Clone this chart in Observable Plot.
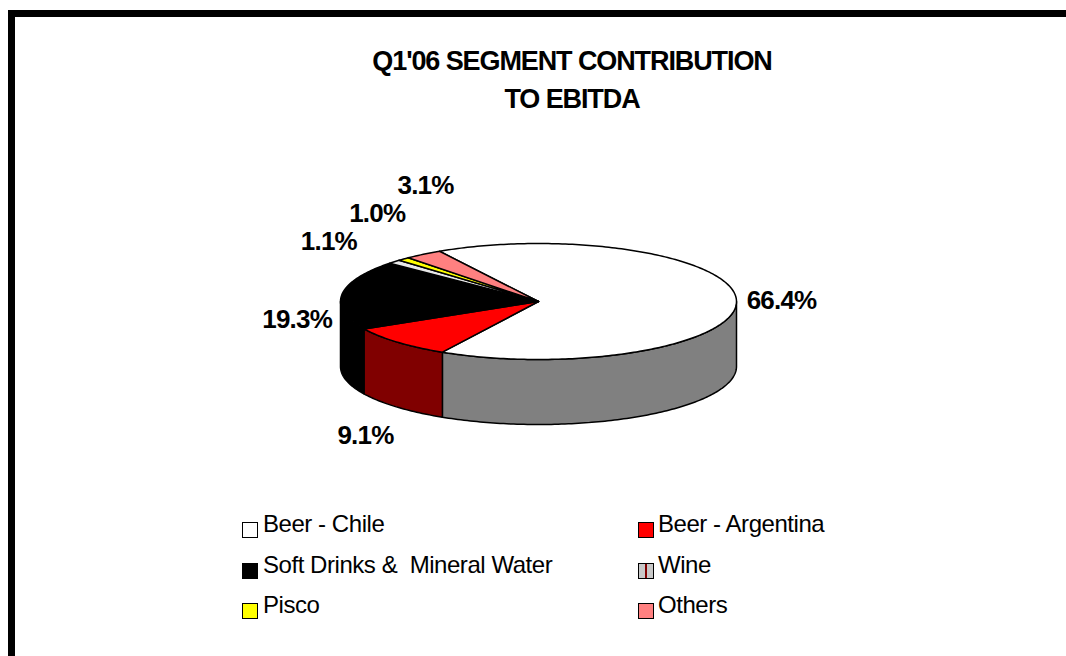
<!DOCTYPE html>
<html><head><meta charset="utf-8">
<script src="https://cdn.jsdelivr.net/npm/d3@7"></script>
<script src="https://cdn.jsdelivr.net/npm/@observablehq/plot@0.6"></script>
<style>
html,body{margin:0;padding:0;background:#fff;width:1066px;height:656px;overflow:hidden;font-family:"Liberation Sans",Arial,sans-serif;color:#000;}
#frame{position:absolute;left:8px;top:10px;width:1100px;height:700px;border:7px solid #000;box-sizing:border-box;}
#title{position:absolute;left:322px;width:500px;top:42px;text-align:center;font-weight:bold;font-size:27px;letter-spacing:-1.1px;line-height:38px;}
#chart{position:absolute;left:0;top:140px;}
#chart svg text{letter-spacing:-0.8px;}
.lg-sw{position:absolute;width:16px;height:16px;box-sizing:border-box;border:1.5px solid #000;}
.lg-tx{position:absolute;font-size:24px;line-height:26px;letter-spacing:-0.45px;white-space:pre;}
</style></head>
<body>
<div id="frame"></div>
<div id="title">Q1'06 SEGMENT CONTRIBUTION<br>TO EBITDA</div>
<div id="chart"></div>
<div id="legend"></div>
<script>
// ---- data ----
const categories = ["Beer - Chile", "Beer - Argentina", "Soft Drinks &  Mineral Water", "Wine", "Pisco", "Others"];
const shares = [66.4, 9.1, 19.3, 1.1, 1.0, 3.1];
const valueLabels = ["66.4%", "9.1%", "19.3%", "1.1%", "1.0%", "3.1%"];
const topColors = ["#FFFFFF", "#FF0000", "#000000", "#E8E8E8", "#FFFF00", "#FF8080"];
const sideColors = ["#808080", "#800000", "#000000", "#808080", "#808000", "#804040"];

// ---- geometry (3D pie projection) ----
const W = 1066, H = 330;
const cx = 538, cy = 161, rx = 198, ry = 58, depth = 65;
const D = depth / ry;
const firstSliceAngle = 330;
const total = d3.sum(shares);
const rad = a => a * Math.PI / 180;
const U = a => Math.sin(rad(a)), V = a => Math.cos(rad(a));

let acc = firstSliceAngle;
const slices = shares.map((v, i) => { const a0 = acc; acc += v / total * 360; return {i, a0, a1: acc}; });

function arc(a0, a1, off) {
  const n = Math.max(2, Math.ceil(Math.abs(a1 - a0)));
  return d3.range(n + 1).map(k => { const a = a0 + (a1 - a0) * k / n; return {x: U(a), y: V(a) - off}; });
}
const tops = [], sides = [];
for (const s of slices) {
  tops.push({i: s.i, pts: [{x: 0, y: 0}, ...arc(s.a0, s.a1, 0), {x: 0, y: 0}]});
  for (const [f0, f1] of [[-270, -90], [90, 270], [450, 630]]) {
    const b0 = Math.max(s.a0, f0), b1 = Math.min(s.a1, f1);
    if (b1 > b0) {
      const t = arc(b0, b1, 0), b = arc(b0, b1, D).reverse();
      sides.push({i: s.i, pts: [...t, ...b, t[0]]});
    }
  }
}

// ---- label layout (outside end, crowded labels stepped as a staircase) ----
const ctx = document.createElement("canvas").getContext("2d");
ctx.font = "bold 26px 'Liberation Sans'";
const LH = 27;
const lab = slices.map(s => {
  const m = (s.a0 + s.a1) / 2, u = U(m), w = V(m);
  const t = valueLabels[s.i];
  const wdt = ctx.measureText(t).width - 0.8 * (t.length - 1);
  const px = cx + u * (rx + 45);
  const py = cy - w * (ry + (w < 0 ? 40 : 60)) + (w < 0 ? depth : 0)
           + (u < 0 ? depth * 0.75 * Math.max(0, 1 - Math.abs(w) * 3) : 0);
  return {t, m, u, w, wdt, px, py};
});
const overlap = (a, b) => Math.abs(a.px - b.px) < (a.wdt + b.wdt) / 2 && Math.abs(a.py - b.py) < LH;
// cluster overlapping labels
const clusterOf = lab.map((_, i) => i);
const find = i => clusterOf[i] === i ? i : (clusterOf[i] = find(clusterOf[i]));
for (let i = 0; i < lab.length; i++) for (let j = i + 1; j < lab.length; j++)
  if (overlap(lab[i], lab[j])) clusterOf[find(j)] = find(i);
const groups = d3.groups(lab.map((d, i) => i), i => find(i));
for (const [, idx] of groups) {
  if (idx.length < 2) continue;
  idx.sort((a, b) => lab[a].m - lab[b].m);
  const mx = d3.mean(idx, i => lab[i].px), my = d3.mean(idx, i => lab[i].py);
  const mm = d3.mean(idx, i => lab[i].m);
  const sx = Math.sign(Math.cos(rad(mm))) || 1, sy = Math.sign(Math.sin(rad(mm))) || 1;
  const stepX = 0.85 * d3.mean(idx, i => lab[i].wdt), stepY = LH + 1;
  idx.forEach((i, k) => {
    const o = k - (idx.length - 1) / 2;
    lab[i].px = mx + o * sx * stepX;
    lab[i].py = my + o * sy * stepY;
  });
}
const labelData = lab.map(d => ({text: d.t, x: (d.px - cx) / rx, y: (cy - d.py) / ry}));

const polyMark = (p, fill) => Plot.line(p.pts, {x: "x", y: "y", fill, stroke: "#000", strokeWidth: 1.5, strokeLinejoin: "round", curve: "linear"});

const chart = Plot.plot({
  width: W, height: H,
  margin: 0,
  x: {domain: [-1, 1], range: [cx - rx, cx + rx], axis: null},
  y: {domain: [-1, 1], range: [cy + ry, cy - ry], axis: null},
  style: {background: "transparent", fontFamily: "'Liberation Sans', Arial, sans-serif"},
  marks: [
    ...sides.map(p => polyMark(p, sideColors[p.i])),
    ...tops.map(p => polyMark(p, topColors[p.i])),
    Plot.text(labelData, {x: "x", y: "y", text: "text", fontSize: 26, fontWeight: "bold", fill: "#000", textAnchor: "middle"})
  ]
});
document.getElementById("chart").appendChild(chart);

// ---- legend ----
const legend = document.getElementById("legend");
const colSw = [242, 638], colTx = [263, 658];
const rowBase = [532, 573, 613];
categories.forEach((c, i) => {
  const col = i % 2, row = Math.floor(i / 2);
  const sw = document.createElement("div");
  sw.className = "lg-sw";
  sw.style.left = colSw[col] + "px";
  sw.style.top = (rowBase[row] - 10) + "px";
  sw.style.background = c === "Wine"
    ? "linear-gradient(to right, #C8C8C8 42%, #800000 42%, #800000 58%, #C8C8C8 58%)"
    : topColors[i];
  legend.appendChild(sw);
  const tx = document.createElement("div");
  tx.className = "lg-tx";
  tx.style.left = colTx[col] + "px";
  tx.style.top = (rowBase[row] - 21) + "px";
  tx.textContent = c;
  legend.appendChild(tx);
});
</script>
</body></html>
